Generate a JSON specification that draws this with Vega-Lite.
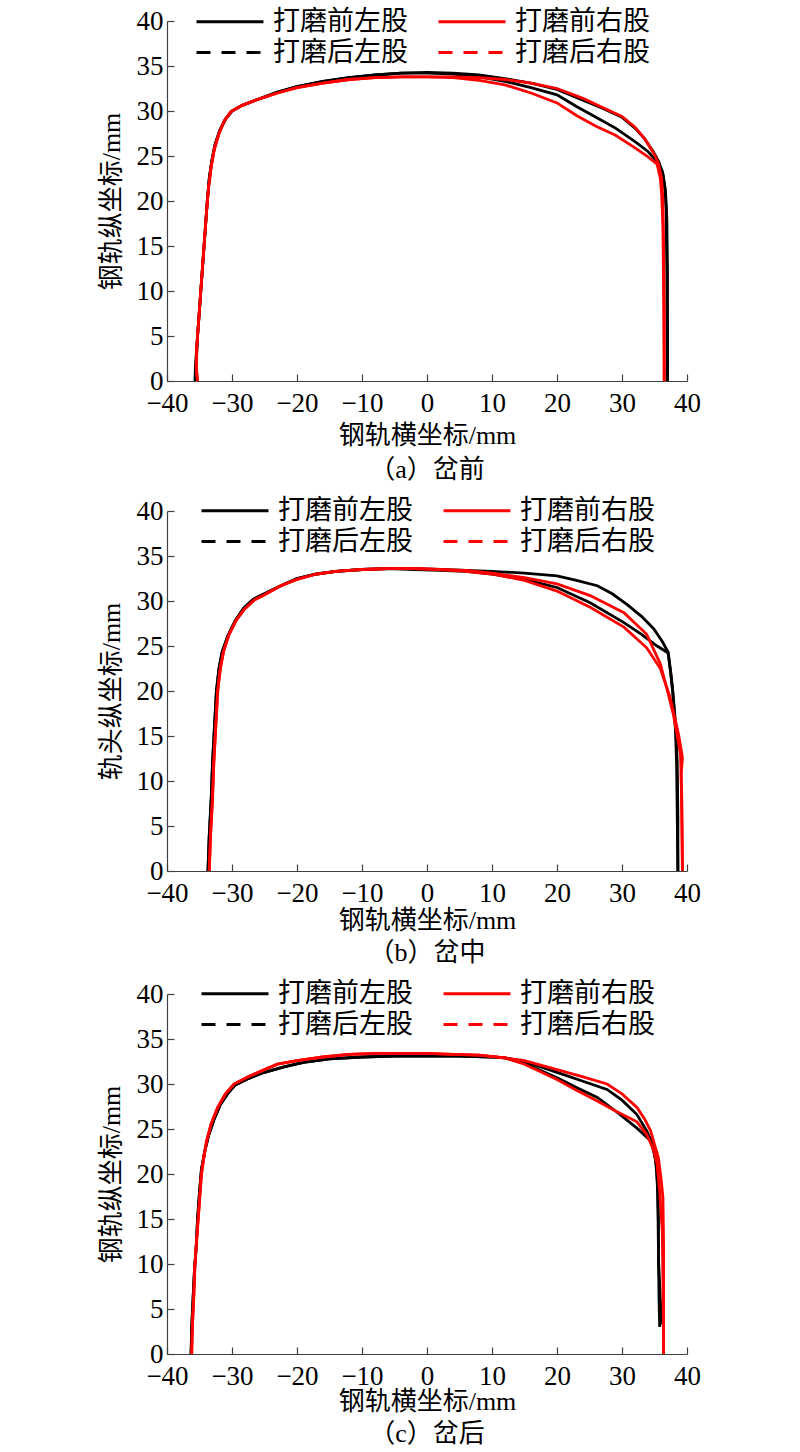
{
  "$schema": "https://vega.github.io/schema/vega-lite/v6.json",
  "background": "white",
  "padding": {"left": 98, "top": 7, "right": 10, "bottom": 5},
  "spacing": 14,
  "resolve": {"scale": {"color": "independent"}, "legend": {"color": "independent"}},
  "config": {
    "view": {"stroke": null},
    "font": "Liberation Serif, Noto Sans CJK SC",
    "axis": {
      "grid": false,
      "domainColor": "#404040", "domainWidth": 1.2,
      "tickColor": "#404040", "tickWidth": 1.2, "tickSize": -7,
      "labelPadding": 11, "labelFont": "Liberation Serif", "labelFontSize": 27, "labelColor": "black",
      "labelFlush": false, "labelOverlap": false, "labelBound": false,
      "titleFont": "Liberation Serif, Noto Sans CJK SC", "titleFontSize": 26, "titleFontWeight": "normal", "titleColor": "black"
    },
    "axisX": {"labelPadding": 16},
    "legend": {
      "orient": "none", "title": null, "columns": 2, "direction": "horizontal", "padding": 0,
      "labelFont": "Noto Sans CJK SC", "labelFontSize": 27, "labelColor": "black", "labelOffset": 51,
      "symbolType": "M-1,0H4.583", "symbolSize": 576, "symbolStrokeWidth": 2.8,
      "columnPadding": 24, "rowPadding": 3
    },
    "title": {"orient": "bottom", "anchor": "middle", "font": "Liberation Serif, Noto Sans CJK SC", "fontSize": 26, "fontWeight": "normal", "color": "black", "offset": 7}
  },
  "datasets": {
    "p1": [
      {"s":"打磨前左股","x":-35.7,"y":0},{"s":"打磨前左股","x":-35.6,"y":2},{"s":"打磨前左股","x":-35.3,"y":5},{"s":"打磨前左股","x":-35.0,"y":8},{"s":"打磨前左股","x":-34.7,"y":11},{"s":"打磨前左股","x":-34.4,"y":14},{"s":"打磨前左股","x":-34.1,"y":17},{"s":"打磨前左股","x":-33.8,"y":20},{"s":"打磨前左股","x":-33.5,"y":22.5},{"s":"打磨前左股","x":-33.1,"y":24.5},{"s":"打磨前左股","x":-32.6,"y":26.3},{"s":"打磨前左股","x":-31.9,"y":27.8},{"s":"打磨前左股","x":-31.0,"y":29.1},{"s":"打磨前左股","x":-30.0,"y":30.0},{"s":"打磨前左股","x":-28.5,"y":30.6},{"s":"打磨前左股","x":-26,"y":31.3},{"s":"打磨前左股","x":-23,"y":32.1},{"s":"打磨前左股","x":-20,"y":32.7},{"s":"打磨前左股","x":-16,"y":33.3},{"s":"打磨前左股","x":-12,"y":33.7},{"s":"打磨前左股","x":-8,"y":34.0},{"s":"打磨前左股","x":-4,"y":34.2},
      {"s":"打磨前左股","x":0,"y":34.3},{"s":"打磨前左股","x":4,"y":34.2},{"s":"打磨前左股","x":8,"y":34.0},{"s":"打磨前左股","x":12,"y":33.6},{"s":"打磨前左股","x":16,"y":33.1},{"s":"打磨前左股","x":20,"y":32.4},{"s":"打磨前左股","x":24,"y":31.2},{"s":"打磨前左股","x":27,"y":30.3},{"s":"打磨前左股","x":30,"y":29.3},{"s":"打磨前左股","x":32,"y":28.1},{"s":"打磨前左股","x":33.5,"y":26.9},{"s":"打磨前左股","x":34.8,"y":25.5},{"s":"打磨前左股","x":35.7,"y":24.3},{"s":"打磨前左股","x":36.3,"y":23.0},{"s":"打磨前左股","x":36.7,"y":21.0},{"s":"打磨前左股","x":36.9,"y":18},{"s":"打磨前左股","x":37.0,"y":12},{"s":"打磨前左股","x":37.0,"y":6},{"s":"打磨前左股","x":37.0,"y":0},

      {"s":"打磨后左股","x":-35.6,"y":0},{"s":"打磨后左股","x":-35.5,"y":2},{"s":"打磨后左股","x":-35.3,"y":5},{"s":"打磨后左股","x":-35.0,"y":8},{"s":"打磨后左股","x":-34.7,"y":11},{"s":"打磨后左股","x":-34.4,"y":14},{"s":"打磨后左股","x":-34.1,"y":17},{"s":"打磨后左股","x":-33.8,"y":20},{"s":"打磨后左股","x":-33.5,"y":22.5},{"s":"打磨后左股","x":-33.1,"y":24.5},{"s":"打磨后左股","x":-32.6,"y":26.3},{"s":"打磨后左股","x":-31.9,"y":27.8},{"s":"打磨后左股","x":-31.0,"y":29.1},{"s":"打磨后左股","x":-30.0,"y":30.0},{"s":"打磨后左股","x":-28.5,"y":30.6},{"s":"打磨后左股","x":-26,"y":31.3},{"s":"打磨后左股","x":-23,"y":32.1},{"s":"打磨后左股","x":-20,"y":32.7},{"s":"打磨后左股","x":-16,"y":33.3},{"s":"打磨后左股","x":-12,"y":33.7},{"s":"打磨后左股","x":-8,"y":34.0},{"s":"打磨后左股","x":-4,"y":34.2},
      {"s":"打磨后左股","x":0,"y":34.2},{"s":"打磨后左股","x":4,"y":34.1},{"s":"打磨后左股","x":8,"y":33.8},{"s":"打磨后左股","x":12,"y":33.3},{"s":"打磨后左股","x":16,"y":32.6},{"s":"打磨后左股","x":20,"y":31.8},{"s":"打磨后左股","x":23,"y":30.5},{"s":"打磨后左股","x":26,"y":29.3},{"s":"打磨后左股","x":29,"y":28.1},{"s":"打磨后左股","x":32,"y":26.6},{"s":"打磨后左股","x":34,"y":25.5},{"s":"打磨后左股","x":35.5,"y":24.3},{"s":"打磨后左股","x":36.2,"y":23.3},{"s":"打磨后左股","x":36.6,"y":21.5},{"s":"打磨后左股","x":36.8,"y":19},{"s":"打磨后左股","x":36.9,"y":12},{"s":"打磨后左股","x":37.0,"y":0},

      {"s":"打磨前右股","x":-35.3,"y":0},{"s":"打磨前右股","x":-35.5,"y":1.5},{"s":"打磨前右股","x":-35.4,"y":4},{"s":"打磨前右股","x":-35.1,"y":7},{"s":"打磨前右股","x":-34.8,"y":10},{"s":"打磨前右股","x":-34.5,"y":13},{"s":"打磨前右股","x":-34.2,"y":16},{"s":"打磨前右股","x":-33.9,"y":19},{"s":"打磨前右股","x":-33.6,"y":21.5},{"s":"打磨前右股","x":-33.2,"y":23.8},{"s":"打磨前右股","x":-32.7,"y":25.8},{"s":"打磨前右股","x":-32.0,"y":27.5},{"s":"打磨前右股","x":-31.2,"y":28.9},{"s":"打磨前右股","x":-30.2,"y":29.9},{"s":"打磨前右股","x":-28.5,"y":30.6},{"s":"打磨前右股","x":-26,"y":31.3},{"s":"打磨前右股","x":-23,"y":32.0},{"s":"打磨前右股","x":-20,"y":32.6},{"s":"打磨前右股","x":-16,"y":33.1},{"s":"打磨前右股","x":-12,"y":33.5},{"s":"打磨前右股","x":-8,"y":33.7},{"s":"打磨前右股","x":-4,"y":33.8},
      {"s":"打磨前右股","x":0,"y":33.8},{"s":"打磨前右股","x":4,"y":33.8},{"s":"打磨前右股","x":8,"y":33.7},{"s":"打磨前右股","x":12,"y":33.5},{"s":"打磨前右股","x":16,"y":33.1},{"s":"打磨前右股","x":20,"y":32.5},{"s":"打磨前右股","x":24,"y":31.4},{"s":"打磨前右股","x":27,"y":30.4},{"s":"打磨前右股","x":30,"y":29.4},{"s":"打磨前右股","x":32,"y":28.2},{"s":"打磨前右股","x":33.5,"y":26.9},{"s":"打磨前右股","x":34.8,"y":25.4},{"s":"打磨前右股","x":35.6,"y":24.2},{"s":"打磨前右股","x":36.1,"y":22.5},{"s":"打磨前右股","x":36.3,"y":20},{"s":"打磨前右股","x":36.4,"y":15},{"s":"打磨前右股","x":36.5,"y":8},{"s":"打磨前右股","x":36.5,"y":0},

      {"s":"打磨后右股","x":-35.3,"y":0},{"s":"打磨后右股","x":-35.5,"y":1.5},{"s":"打磨后右股","x":-35.4,"y":4},{"s":"打磨后右股","x":-35.1,"y":7},{"s":"打磨后右股","x":-34.8,"y":10},{"s":"打磨后右股","x":-34.5,"y":13},{"s":"打磨后右股","x":-34.2,"y":16},{"s":"打磨后右股","x":-33.9,"y":19},{"s":"打磨后右股","x":-33.6,"y":21.5},{"s":"打磨后右股","x":-33.2,"y":23.8},{"s":"打磨后右股","x":-32.7,"y":25.8},{"s":"打磨后右股","x":-32.0,"y":27.5},{"s":"打磨后右股","x":-31.2,"y":28.9},{"s":"打磨后右股","x":-30.2,"y":29.9},{"s":"打磨后右股","x":-28.5,"y":30.6},{"s":"打磨后右股","x":-26,"y":31.3},{"s":"打磨后右股","x":-23,"y":32.0},{"s":"打磨后右股","x":-20,"y":32.6},{"s":"打磨后右股","x":-16,"y":33.1},{"s":"打磨后右股","x":-12,"y":33.5},{"s":"打磨后右股","x":-8,"y":33.7},{"s":"打磨后右股","x":-4,"y":33.8},
      {"s":"打磨后右股","x":0,"y":33.8},{"s":"打磨后右股","x":4,"y":33.7},{"s":"打磨后右股","x":8,"y":33.4},{"s":"打磨后右股","x":12,"y":32.9},{"s":"打磨后右股","x":16,"y":32.0},{"s":"打磨后右股","x":20,"y":30.9},{"s":"打磨后右股","x":23,"y":29.5},{"s":"打磨后右股","x":26,"y":28.3},{"s":"打磨后右股","x":29,"y":27.3},{"s":"打磨后右股","x":32,"y":25.9},{"s":"打磨后右股","x":34,"y":24.9},{"s":"打磨后右股","x":35.4,"y":24.1},{"s":"打磨后右股","x":35.9,"y":22.5},{"s":"打磨后右股","x":36.1,"y":20.7},{"s":"打磨后右股","x":36.3,"y":17},{"s":"打磨后右股","x":36.4,"y":10},{"s":"打磨后右股","x":36.5,"y":0}
    ],
    "p2": [
      {"s":"打磨前左股","x":-33.7,"y":0},{"s":"打磨前左股","x":-33.5,"y":4},{"s":"打磨前左股","x":-33.2,"y":8},{"s":"打磨前左股","x":-33.0,"y":12},{"s":"打磨前左股","x":-32.7,"y":16},{"s":"打磨前左股","x":-32.4,"y":20},{"s":"打磨前左股","x":-32.0,"y":22.5},{"s":"打磨前左股","x":-31.5,"y":24.4},{"s":"打磨前左股","x":-30.6,"y":26.2},{"s":"打磨前左股","x":-29.5,"y":27.8},{"s":"打磨前左股","x":-28.2,"y":29.2},{"s":"打磨前左股","x":-26.7,"y":30.2},{"s":"打磨前左股","x":-25,"y":30.8},{"s":"打磨前左股","x":-22.5,"y":31.7},{"s":"打磨前左股","x":-20,"y":32.5},{"s":"打磨前左股","x":-17,"y":33.0},{"s":"打磨前左股","x":-14,"y":33.3},{"s":"打磨前左股","x":-10,"y":33.5},{"s":"打磨前左股","x":-6,"y":33.6},
      {"s":"打磨前左股","x":-2,"y":33.6},{"s":"打磨前左股","x":2,"y":33.5},{"s":"打磨前左股","x":6,"y":33.4},{"s":"打磨前左股","x":10,"y":33.3},{"s":"打磨前左股","x":15,"y":33.1},{"s":"打磨前左股","x":20,"y":32.8},{"s":"打磨前左股","x":23,"y":32.3},{"s":"打磨前左股","x":26.2,"y":31.7},{"s":"打磨前左股","x":28.5,"y":30.8},{"s":"打磨前左股","x":30.8,"y":29.6},{"s":"打磨前左股","x":33,"y":28.3},{"s":"打磨前左股","x":34.9,"y":26.9},{"s":"打磨前左股","x":36.2,"y":25.5},{"s":"打磨前左股","x":37.1,"y":24.3},{"s":"打磨前左股","x":37.5,"y":22},{"s":"打磨前左股","x":37.8,"y":20},{"s":"打磨前左股","x":38.3,"y":16},{"s":"打磨前左股","x":38.5,"y":12},{"s":"打磨前左股","x":38.6,"y":6},{"s":"打磨前左股","x":38.6,"y":0},

      {"s":"打磨后左股","x":-33.7,"y":0},{"s":"打磨后左股","x":-33.5,"y":4},{"s":"打磨后左股","x":-33.2,"y":8},{"s":"打磨后左股","x":-33.0,"y":12},{"s":"打磨后左股","x":-32.7,"y":16},{"s":"打磨后左股","x":-32.4,"y":20},{"s":"打磨后左股","x":-32.0,"y":22.5},{"s":"打磨后左股","x":-31.5,"y":24.4},{"s":"打磨后左股","x":-30.6,"y":26.2},{"s":"打磨后左股","x":-29.5,"y":27.8},{"s":"打磨后左股","x":-28.2,"y":29.2},{"s":"打磨后左股","x":-26.7,"y":30.2},{"s":"打磨后左股","x":-25,"y":30.8},{"s":"打磨后左股","x":-22.5,"y":31.7},{"s":"打磨后左股","x":-20,"y":32.5},{"s":"打磨后左股","x":-17,"y":33.0},{"s":"打磨后左股","x":-14,"y":33.3},{"s":"打磨后左股","x":-10,"y":33.5},{"s":"打磨后左股","x":-6,"y":33.6},
      {"s":"打磨后左股","x":-2,"y":33.5},{"s":"打磨后左股","x":2,"y":33.4},{"s":"打磨后左股","x":6,"y":33.3},{"s":"打磨后左股","x":10,"y":33.0},{"s":"打磨后左股","x":15,"y":32.4},{"s":"打磨后左股","x":20,"y":31.5},{"s":"打磨后左股","x":25.1,"y":29.8},{"s":"打磨后左股","x":30.3,"y":27.6},{"s":"打磨后左股","x":33,"y":26.3},{"s":"打磨后左股","x":35.4,"y":25},{"s":"打磨后左股","x":36.5,"y":24.5},{"s":"打磨后左股","x":37.1,"y":24.2},{"s":"打磨后左股","x":37.5,"y":22},{"s":"打磨后左股","x":37.8,"y":20},{"s":"打磨后左股","x":38.2,"y":16},{"s":"打磨后左股","x":38.4,"y":12},{"s":"打磨后左股","x":38.5,"y":6},{"s":"打磨后左股","x":38.6,"y":0},

      {"s":"打磨前右股","x":-33.5,"y":0},{"s":"打磨前右股","x":-33.3,"y":4},{"s":"打磨前右股","x":-33.0,"y":8},{"s":"打磨前右股","x":-32.8,"y":12},{"s":"打磨前右股","x":-32.5,"y":16},{"s":"打磨前右股","x":-32.2,"y":20},{"s":"打磨前右股","x":-31.8,"y":22.5},{"s":"打磨前右股","x":-31.3,"y":24.4},{"s":"打磨前右股","x":-30.5,"y":26.2},{"s":"打磨前右股","x":-29.4,"y":27.8},{"s":"打磨前右股","x":-28.1,"y":29.1},{"s":"打磨前右股","x":-26.6,"y":30.1},{"s":"打磨前右股","x":-25,"y":30.7},{"s":"打磨前右股","x":-22.5,"y":31.7},{"s":"打磨前右股","x":-20,"y":32.4},{"s":"打磨前右股","x":-17,"y":33.0},{"s":"打磨前右股","x":-14,"y":33.3},{"s":"打磨前右股","x":-10,"y":33.5},{"s":"打磨前右股","x":-6,"y":33.6},
      {"s":"打磨前右股","x":-2,"y":33.6},{"s":"打磨前右股","x":2,"y":33.5},{"s":"打磨前右股","x":6,"y":33.4},{"s":"打磨前右股","x":10,"y":33.1},{"s":"打磨前右股","x":15,"y":32.6},{"s":"打磨前右股","x":20,"y":31.9},{"s":"打磨前右股","x":25.1,"y":30.6},{"s":"打磨前右股","x":30.3,"y":28.7},{"s":"打磨前右股","x":33.8,"y":26.3},{"s":"打磨前右股","x":35.9,"y":23},{"s":"打磨前右股","x":37.0,"y":20},{"s":"打磨前右股","x":37.9,"y":17.4},{"s":"打磨前右股","x":38.5,"y":15},{"s":"打磨前右股","x":39.0,"y":13},{"s":"打磨前右股","x":39.2,"y":8},{"s":"打磨前右股","x":39.3,"y":0},

      {"s":"打磨后右股","x":-33.5,"y":0},{"s":"打磨后右股","x":-33.3,"y":4},{"s":"打磨后右股","x":-33.0,"y":8},{"s":"打磨后右股","x":-32.8,"y":12},{"s":"打磨后右股","x":-32.5,"y":16},{"s":"打磨后右股","x":-32.2,"y":20},{"s":"打磨后右股","x":-31.8,"y":22.5},{"s":"打磨后右股","x":-31.3,"y":24.4},{"s":"打磨后右股","x":-30.5,"y":26.2},{"s":"打磨后右股","x":-29.4,"y":27.8},{"s":"打磨后右股","x":-28.1,"y":29.1},{"s":"打磨后右股","x":-26.6,"y":30.1},{"s":"打磨后右股","x":-25,"y":30.7},{"s":"打磨后右股","x":-22.5,"y":31.7},{"s":"打磨后右股","x":-20,"y":32.4},{"s":"打磨后右股","x":-17,"y":33.0},{"s":"打磨后右股","x":-14,"y":33.3},{"s":"打磨后右股","x":-10,"y":33.5},{"s":"打磨后右股","x":-6,"y":33.6},
      {"s":"打磨后右股","x":-2,"y":33.6},{"s":"打磨后右股","x":2,"y":33.5},{"s":"打磨后右股","x":6,"y":33.3},{"s":"打磨后右股","x":10,"y":33.0},{"s":"打磨后右股","x":15,"y":32.3},{"s":"打磨后右股","x":20,"y":31.1},{"s":"打磨后右股","x":25.1,"y":29.3},{"s":"打磨后右股","x":30.3,"y":27.1},{"s":"打磨后右股","x":33.8,"y":24.8},{"s":"打磨后右股","x":35.9,"y":22.5},{"s":"打磨后右股","x":37.4,"y":19.3},{"s":"打磨后右股","x":38.7,"y":15.2},{"s":"打磨后右股","x":39.3,"y":12.6},{"s":"打磨后右股","x":39.1,"y":10.7},{"s":"打磨后右股","x":39.2,"y":6},{"s":"打磨后右股","x":39.3,"y":0}
    ],
    "p3": [
      {"s":"打磨前左股","x":-36.3,"y":0},{"s":"打磨前左股","x":-36.2,"y":3},{"s":"打磨前左股","x":-36.0,"y":6},{"s":"打磨前左股","x":-35.8,"y":9},{"s":"打磨前左股","x":-35.5,"y":12},{"s":"打磨前左股","x":-35.3,"y":15},{"s":"打磨前左股","x":-35.0,"y":18},{"s":"打磨前左股","x":-34.7,"y":20.5},{"s":"打磨前左股","x":-34.2,"y":22.5},{"s":"打磨前左股","x":-33.6,"y":24.3},{"s":"打磨前左股","x":-32.8,"y":26},{"s":"打磨前左股","x":-31.8,"y":27.7},{"s":"打磨前左股","x":-30.7,"y":28.9},{"s":"打磨前左股","x":-29.5,"y":29.9},{"s":"打磨前左股","x":-27.5,"y":30.6},{"s":"打磨前左股","x":-25,"y":31.3},{"s":"打磨前左股","x":-22,"y":31.9},{"s":"打磨前左股","x":-19,"y":32.4},{"s":"打磨前左股","x":-15,"y":32.8},{"s":"打磨前左股","x":-10,"y":33.0},{"s":"打磨前左股","x":-5,"y":33.1},{"s":"打磨前左股","x":0,"y":33.1},{"s":"打磨前左股","x":5,"y":33.1},{"s":"打磨前左股","x":10,"y":33.0},{"s":"打磨前左股","x":12,"y":32.9},
      {"s":"打磨前左股","x":15,"y":32.5},{"s":"打磨前左股","x":20,"y":31.3},{"s":"打磨前左股","x":24,"y":30.3},{"s":"打磨前左股","x":27.7,"y":29.4},{"s":"打磨前左股","x":30,"y":28.2},{"s":"打磨前左股","x":32.3,"y":26.6},{"s":"打磨前左股","x":33.8,"y":24.8},{"s":"打磨前左股","x":34.6,"y":23.5},{"s":"打磨前左股","x":35.2,"y":21.5},{"s":"打磨前左股","x":35.5,"y":18},{"s":"打磨前左股","x":35.6,"y":12},{"s":"打磨前左股","x":35.7,"y":6},{"s":"打磨前左股","x":35.8,"y":3},

      {"s":"打磨后左股","x":-36.3,"y":0},{"s":"打磨后左股","x":-36.2,"y":3},{"s":"打磨后左股","x":-36.0,"y":6},{"s":"打磨后左股","x":-35.8,"y":9},{"s":"打磨后左股","x":-35.5,"y":12},{"s":"打磨后左股","x":-35.3,"y":15},{"s":"打磨后左股","x":-35.0,"y":18},{"s":"打磨后左股","x":-34.7,"y":20.5},{"s":"打磨后左股","x":-34.2,"y":22.5},{"s":"打磨后左股","x":-33.6,"y":24.3},{"s":"打磨后左股","x":-32.8,"y":26},{"s":"打磨后左股","x":-31.8,"y":27.7},{"s":"打磨后左股","x":-30.7,"y":28.9},{"s":"打磨后左股","x":-29.5,"y":29.9},{"s":"打磨后左股","x":-27.5,"y":30.6},{"s":"打磨后左股","x":-25,"y":31.3},{"s":"打磨后左股","x":-22,"y":31.9},{"s":"打磨后左股","x":-19,"y":32.4},{"s":"打磨后左股","x":-15,"y":32.8},{"s":"打磨后左股","x":-10,"y":33.0},{"s":"打磨后左股","x":-5,"y":33.1},{"s":"打磨后左股","x":0,"y":33.1},{"s":"打磨后左股","x":5,"y":33.1},{"s":"打磨后左股","x":10,"y":33.0},{"s":"打磨后左股","x":12,"y":32.9},
      {"s":"打磨后左股","x":15,"y":32.3},{"s":"打磨后左股","x":20,"y":30.7},{"s":"打磨后左股","x":23,"y":29.6},{"s":"打磨后左股","x":26.2,"y":28.5},{"s":"打磨后左股","x":29,"y":27},{"s":"打磨后左股","x":32.3,"y":25.1},{"s":"打磨后左股","x":34.4,"y":23.7},{"s":"打磨后左股","x":35.0,"y":22.2},{"s":"打磨后左股","x":35.4,"y":20.3},{"s":"打磨后左股","x":35.6,"y":15},{"s":"打磨后左股","x":35.6,"y":10.7},{"s":"打磨后左股","x":35.9,"y":6},{"s":"打磨后左股","x":36.2,"y":3.3},

      {"s":"打磨前右股","x":-36.2,"y":0},{"s":"打磨前右股","x":-36.1,"y":3},{"s":"打磨前右股","x":-35.9,"y":6},{"s":"打磨前右股","x":-35.7,"y":10},{"s":"打磨前右股","x":-35.3,"y":14},{"s":"打磨前右股","x":-35.0,"y":17},{"s":"打磨前右股","x":-34.7,"y":20},{"s":"打磨前右股","x":-34.3,"y":22},{"s":"打磨前右股","x":-33.9,"y":23.7},{"s":"打磨前右股","x":-33.2,"y":25.6},{"s":"打磨前右股","x":-32.2,"y":27.4},{"s":"打磨前右股","x":-31.0,"y":28.9},{"s":"打磨前右股","x":-29.7,"y":30},{"s":"打磨前右股","x":-27.5,"y":30.8},{"s":"打磨前右股","x":-25,"y":31.6},{"s":"打磨前右股","x":-23,"y":32.2},{"s":"打磨前右股","x":-20,"y":32.6},{"s":"打磨前右股","x":-16,"y":33.0},{"s":"打磨前右股","x":-12,"y":33.3},{"s":"打磨前右股","x":-8,"y":33.4},{"s":"打磨前右股","x":-4,"y":33.4},{"s":"打磨前右股","x":0,"y":33.4},{"s":"打磨前右股","x":4,"y":33.3},{"s":"打磨前右股","x":8,"y":33.2},{"s":"打磨前右股","x":12,"y":32.9},
      {"s":"打磨前右股","x":15,"y":32.6},{"s":"打磨前右股","x":20,"y":31.6},{"s":"打磨前右股","x":24,"y":30.8},{"s":"打磨前右股","x":27.7,"y":30.0},{"s":"打磨前右股","x":30,"y":28.9},{"s":"打磨前右股","x":32.3,"y":27.4},{"s":"打磨前右股","x":33.5,"y":26.1},{"s":"打磨前右股","x":34.4,"y":24.8},{"s":"打磨前右股","x":35.0,"y":23.3},{"s":"打磨前右股","x":35.6,"y":21.8},{"s":"打磨前右股","x":36.0,"y":19.5},{"s":"打磨前右股","x":36.3,"y":17.4},{"s":"打磨前右股","x":36.4,"y":12},{"s":"打磨前右股","x":36.4,"y":6},{"s":"打磨前右股","x":36.4,"y":0},

      {"s":"打磨后右股","x":-36.2,"y":0},{"s":"打磨后右股","x":-36.1,"y":3},{"s":"打磨后右股","x":-35.9,"y":6},{"s":"打磨后右股","x":-35.7,"y":10},{"s":"打磨后右股","x":-35.3,"y":14},{"s":"打磨后右股","x":-35.0,"y":17},{"s":"打磨后右股","x":-34.7,"y":20},{"s":"打磨后右股","x":-34.3,"y":22},{"s":"打磨后右股","x":-33.9,"y":23.7},{"s":"打磨后右股","x":-33.2,"y":25.6},{"s":"打磨后右股","x":-32.2,"y":27.4},{"s":"打磨后右股","x":-31.0,"y":28.9},{"s":"打磨后右股","x":-29.7,"y":30},{"s":"打磨后右股","x":-27.5,"y":30.8},{"s":"打磨后右股","x":-25,"y":31.6},{"s":"打磨后右股","x":-23,"y":32.2},{"s":"打磨后右股","x":-20,"y":32.6},{"s":"打磨后右股","x":-16,"y":33.0},{"s":"打磨后右股","x":-12,"y":33.3},{"s":"打磨后右股","x":-8,"y":33.4},{"s":"打磨后右股","x":-4,"y":33.4},{"s":"打磨后右股","x":0,"y":33.4},{"s":"打磨后右股","x":4,"y":33.3},{"s":"打磨后右股","x":8,"y":33.2},{"s":"打磨后右股","x":12,"y":32.9},
      {"s":"打磨后右股","x":15,"y":32.2},{"s":"打磨后右股","x":20,"y":30.5},{"s":"打磨后右股","x":23,"y":29.3},{"s":"打磨后右股","x":26.2,"y":28.1},{"s":"打磨后右股","x":29,"y":27},{"s":"打磨后右股","x":32.3,"y":25.8},{"s":"打磨后右股","x":33.8,"y":24.4},{"s":"打磨后右股","x":34.8,"y":22.8},{"s":"打磨后右股","x":35.4,"y":21.1},{"s":"打磨后右股","x":35.8,"y":18},{"s":"打磨后右股","x":36.2,"y":13.7},{"s":"打磨后右股","x":36.3,"y":8},{"s":"打磨后右股","x":36.4,"y":0}
    ]
  },
  "vconcat": [
    {
      "width": 520, "height": 360,
      "data": {"name": "p1"},
      "title": {"text": "（a）岔前", "offset": 9},
      "mark": {"type": "line", "strokeWidth": 2.8},
      "encoding": {
        "x": {"field": "x", "type": "quantitative", "scale": {"domain": [-40, 40], "nice": false}, "axis": {"title": "钢轨横坐标/mm", "values": [-40,-30,-20,-10,0,10,20,30,40], "titlePadding": 6}},
        "y": {"field": "y", "type": "quantitative", "scale": {"domain": [0, 40], "nice": false}, "axis": {"title": "钢轨纵坐标/mm", "values": [0,5,10,15,20,25,30,35,40], "titlePadding": 12}},
        "color": {"field": "s", "type": "nominal", "scale": {"domain": ["打磨前左股","打磨前右股","打磨后左股","打磨后右股"], "range": ["black","red","black","red"]},
          "legend": {"legendX": 28, "legendY": -13, "encode": {"symbols": {"update": {"strokeDash": {"signal": "indexof(datum.value, '后') >= 0 ? [14, 11] : [1, 0]"}}}}}},
        "order": {"value": null}
      }
    },
    {
      "width": 520, "height": 360,
      "data": {"name": "p2"},
      "title": {"text": "（b）岔中"},
      "mark": {"type": "line", "strokeWidth": 2.8},
      "encoding": {
        "x": {"field": "x", "type": "quantitative", "scale": {"domain": [-40, 40], "nice": false}, "axis": {"title": "钢轨横坐标/mm", "values": [-40,-30,-20,-10,0,10,20,30,40], "titlePadding": 1}},
        "y": {"field": "y", "type": "quantitative", "scale": {"domain": [0, 40], "nice": false}, "axis": {"title": "轨头纵坐标/mm", "values": [0,5,10,15,20,25,30,35,40], "titlePadding": 12}},
        "color": {"field": "s", "type": "nominal", "scale": {"domain": ["打磨前左股","打磨前右股","打磨后左股","打磨后右股"], "range": ["black","red","black","red"]},
          "legend": {"legendX": 33, "legendY": -14, "encode": {"symbols": {"update": {"strokeDash": {"signal": "indexof(datum.value, '后') >= 0 ? [14, 11] : [1, 0]"}}}}}},
        "order": {"value": null}
      }
    },
    {
      "width": 520, "height": 360,
      "data": {"name": "p3"},
      "title": {"text": "（c）岔后"},
      "mark": {"type": "line", "strokeWidth": 2.8},
      "encoding": {
        "x": {"field": "x", "type": "quantitative", "scale": {"domain": [-40, 40], "nice": false}, "axis": {"title": "钢轨横坐标/mm", "values": [-40,-30,-20,-10,0,10,20,30,40], "titlePadding": -1}},
        "y": {"field": "y", "type": "quantitative", "scale": {"domain": [0, 40], "nice": false}, "axis": {"title": "钢轨纵坐标/mm", "values": [0,5,10,15,20,25,30,35,40], "titlePadding": 12}},
        "color": {"field": "s", "type": "nominal", "scale": {"domain": ["打磨前左股","打磨前右股","打磨后左股","打磨后右股"], "range": ["black","red","black","red"]},
          "legend": {"legendX": 33, "legendY": -14, "encode": {"symbols": {"update": {"strokeDash": {"signal": "indexof(datum.value, '后') >= 0 ? [14, 11] : [1, 0]"}}}}}},
        "order": {"value": null}
      }
    }
  ]
}
